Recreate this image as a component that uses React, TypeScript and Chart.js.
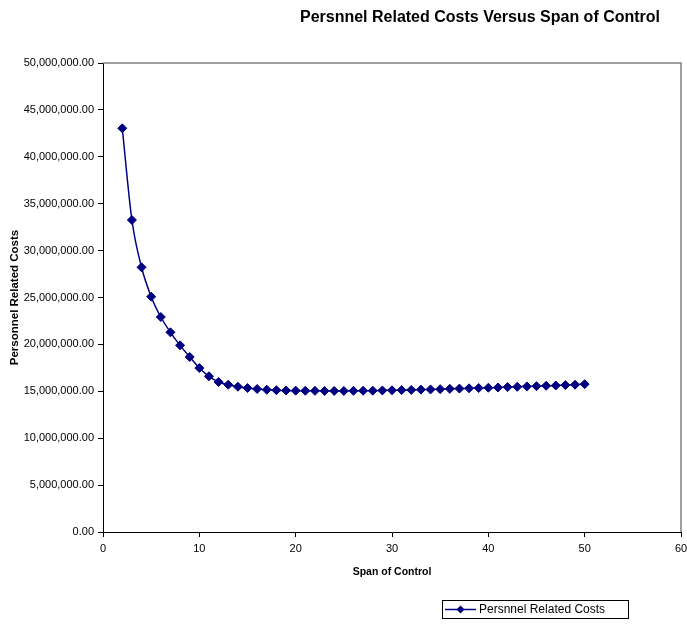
import { useEffect, useRef } from "react";
import { Chart, registerables } from "chart.js";

Chart.register(...registerables);

const chartTitle = "Persnnel Related Costs Versus Span of Control";
const seriesLabel = "Persnnel Related Costs";
const xAxisTitle = "Span of Control";
const yAxisTitle = "Personnel Related Costs";

const spanOfControl = [
  2, 3, 4, 5, 6, 7, 8, 9, 10, 11, 12, 13, 14, 15, 16, 17, 18, 19, 20, 21, 22, 23, 24, 25, 26,
  27, 28, 29, 30, 31, 32, 33, 34, 35, 36, 37, 38, 39, 40, 41, 42, 43, 44, 45, 46, 47, 48, 49, 50,
];

const personnelCosts = [
  43040000, 33260000, 28220000, 25090000, 22920000, 21290000, 19900000, 18660000, 17480000,
  16600000, 15990000, 15700000, 15490000, 15350000, 15250000, 15170000, 15120000, 15090000,
  15070000, 15060000, 15050000, 15040000, 15040000, 15040000, 15050000, 15060000, 15070000,
  15090000, 15110000, 15130000, 15150000, 15180000, 15200000, 15230000, 15260000, 15290000,
  15320000, 15350000, 15380000, 15410000, 15450000, 15480000, 15520000, 15550000, 15590000,
  15620000, 15660000, 15700000, 15760000,
];

const xMin = 0;
const xMax = 60;
const xStep = 10;
const yMin = 0;
const yMax = 50000000;
const yStep = 5000000;

const FONT = "'Liberation Sans', Arial, sans-serif";
const NAVY = "#000080";

function drawDiamond(ctx: CanvasRenderingContext2D, x: number, y: number, r: number) {
  ctx.beginPath();
  ctx.moveTo(x, y - r);
  ctx.lineTo(x + r, y);
  ctx.lineTo(x, y + r);
  ctx.lineTo(x - r, y);
  ctx.closePath();
  ctx.fill();
}

const decorPlugin = {
  id: "decor",
  beforeDatasetsDraw(chart: any) {
    const { ctx, chartArea } = chart;
    ctx.save();
    ctx.strokeStyle = "#808080";
    ctx.lineWidth = 1.5;
    ctx.beginPath();
    ctx.moveTo(chartArea.left, chartArea.top);
    ctx.lineTo(chartArea.right, chartArea.top);
    ctx.lineTo(chartArea.right, chartArea.bottom);
    ctx.stroke();
    ctx.restore();
  },
  afterDraw(chart: any) {
    const { ctx } = chart;
    ctx.save();
    // title
    ctx.fillStyle = "#000";
    ctx.font = `bold 16px ${FONT}`;
    ctx.textAlign = "center";
    ctx.textBaseline = "middle";
    ctx.fillText(chartTitle, 480, 18);
    // legend box
    const bx = 442, by = 600, bw = 186, bh = 18;
    ctx.fillStyle = "#fff";
    ctx.fillRect(bx, by, bw, bh);
    ctx.strokeStyle = "#000";
    ctx.lineWidth = 1;
    ctx.strokeRect(bx + 0.5, by + 0.5, bw, bh);
    const ly = by + bh / 2 + 0.5;
    ctx.strokeStyle = NAVY;
    ctx.lineWidth = 1.5;
    ctx.beginPath();
    ctx.moveTo(bx + 3, ly);
    ctx.lineTo(bx + 34, ly);
    ctx.stroke();
    ctx.fillStyle = NAVY;
    drawDiamond(ctx, bx + 18.5, ly, 4);
    ctx.fillStyle = "#000";
    ctx.font = `12px ${FONT}`;
    ctx.textAlign = "left";
    ctx.fillText(seriesLabel, bx + 37, ly + 0.5);
    ctx.restore();
  },
};

export default function App() {
  const canvasRef = useRef<HTMLCanvasElement | null>(null);

  useEffect(() => {
    if (!canvasRef.current) return;
    const data = spanOfControl.map((x, i) => ({ x, y: personnelCosts[i] }));
    const chart = new Chart(canvasRef.current, {
      type: "line",
      data: {
        datasets: [
          {
            label: seriesLabel,
            data,
            borderColor: NAVY,
            backgroundColor: NAVY,
            borderWidth: 1.5,
            tension: 0.4,
            cubicInterpolationMode: "monotone",
            pointStyle: "rectRot",
            pointRadius: 4.5,
            pointBorderWidth: 1,
            pointBackgroundColor: NAVY,
            pointBorderColor: NAVY,
            fill: false,
          },
        ],
      },
      options: {
        animation: false,
        responsive: false,
        maintainAspectRatio: false,
        devicePixelRatio: 1,
        layout: { padding: { top: 63, right: 6, bottom: 44, left: 0 } },
        plugins: {
          legend: { display: false },
          title: { display: false },
          tooltip: { enabled: false },
        },
        scales: {
          x: {
            type: "linear",
            min: xMin,
            max: xMax,
            afterFit(scale: any) {
              scale.height = 50;
              scale.paddingRight = 0;
              scale.paddingLeft = 0;
            },
            ticks: {
              stepSize: xStep,
              color: "#000",
              font: { family: FONT, size: 11 },
              padding: 5.5,
              maxRotation: 0,
            },
            grid: {
              drawOnChartArea: false,
              drawTicks: true,
              tickLength: 5,
              color: "#000",
            },
            border: { color: "#000", width: 1 },
            title: {
              display: true,
              text: xAxisTitle,
              color: "#000",
              font: { family: FONT, size: 10.5, weight: "bold" },
              padding: { top: 0, bottom: 4 },
            },
          },
          y: {
            type: "linear",
            min: yMin,
            max: yMax,
            afterFit(scale: any) {
              scale.width = 103;
              scale.paddingTop = 0;
              scale.paddingBottom = 0;
            },
            ticks: {
              stepSize: yStep,
              color: "#000",
              font: { family: FONT, size: 11 },
              padding: 4,
              callback: (v: any) =>
                Number(v).toLocaleString("en-US", {
                  minimumFractionDigits: 2,
                  maximumFractionDigits: 2,
                }),
            },
            grid: {
              drawOnChartArea: false,
              drawTicks: true,
              tickLength: 5,
              color: "#000",
            },
            border: { color: "#000", width: 1 },
            title: {
              display: true,
              text: yAxisTitle,
              color: "#000",
              font: { family: FONT, size: 11.5, weight: "bold" },
              padding: { top: 8, bottom: 0 },
            },
          },
        },
      },
      plugins: [decorPlugin],
    } as any);
    return () => chart.destroy();
  }, []);

  return (
    <div style={{ position: "fixed", left: 0, top: 0, width: 687, height: 626, background: "#fff" }}>
      <canvas ref={canvasRef} width={687} height={626} style={{ width: 687, height: 626, display: "block" }} />
    </div>
  );
}
